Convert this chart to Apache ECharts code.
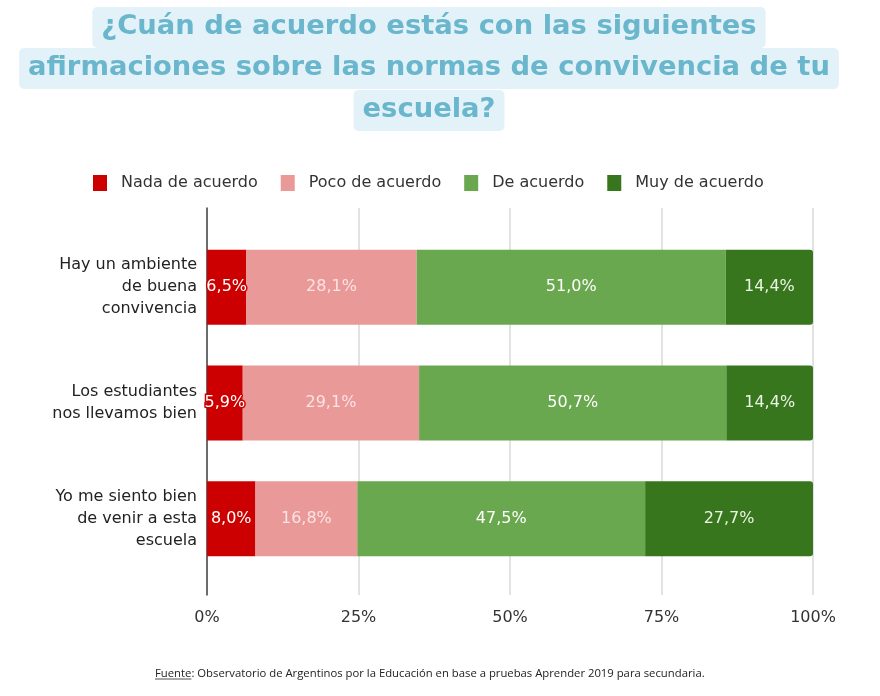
<!DOCTYPE html>
<html><head><meta charset="utf-8">
<script src="https://cdn.jsdelivr.net/npm/echarts@6/dist/echarts.min.js"></script>
<style>html,body{margin:0;padding:0;background:#fff}#c{width:880px;height:696px}</style>
</head><body><div id="c"></div>
<script>
const titleLines = ['¿Cuán de acuerdo estás con las siguientes', 'afirmaciones sobre las normas de convivencia de tu', 'escuela?'];
const categories = ['Hay un ambiente\nde buena\nconvivencia', 'Los estudiantes\nnos llevamos bien', 'Yo me siento bien\nde venir a esta\nescuela'];
const seriesNames = ['Nada de acuerdo', 'Poco de acuerdo', 'De acuerdo', 'Muy de acuerdo'];
const nada = [6.5, 5.9, 8.0];
const poco = [28.1, 29.1, 16.8];
const deAcuerdo = [51.0, 50.7, 47.5];
const muy = [14.4, 14.4, 27.7];
const xTicks = [0, 25, 50, 75, 100];
const footer = 'Observatorio de Argentinos por la Educación en base a pruebas Aprender 2019 para secundaria.';

const colors = ['#cc0000', '#ea9999', '#6aa84f', '#38761d'];
const labelColors = ['#ffffff', '#fbe3e3', '#ffffff', '#eaf4e4'];
const font = 'DejaVu Sans';
const fmt = p => p.value.toFixed(1).replace('.', ',') + '%';

const chart = echarts.init(document.getElementById('c'));
const tops = [7, 48, 90];
const option = {
  animation: false,
  title: titleLines.map((t, i) => ({
    text: t, left: 420, top: tops[i], textAlign: 'center',
    backgroundColor: '#e3f2f8', borderRadius: 5,
    padding: [4, 9, 5, 9],
    textStyle: {fontFamily: 'DejaVu Sans', fontWeight: 'bold', fontSize: 27.4, color: '#6ab6cc', lineHeight: 32}
  })),
  legend: {
    data: seriesNames, top: 170, left: 88, icon: 'rect',
    itemWidth: 14, itemHeight: 16, itemGap: 23,
    textStyle: {fontFamily: font, fontSize: 16, color: '#333', padding: [0,0,0,9]}
  },
  grid: [
    {left: 207, right: 67, top: 208, bottom: 101},
    {left: 207, right: 67, top: 229.5, bottom: 119.5}
  ],
  xAxis: [
    {gridIndex: 0, type: 'value', min: xTicks[0], max: xTicks[xTicks.length - 1], interval: xTicks[1] - xTicks[0],
      axisLine: {show: false}, axisTick: {show: false},
      splitLine: {lineStyle: {color: '#d9d9d9', width: 1.5}},
      axisLabel: {formatter: '{value}%', fontFamily: font, fontSize: 16, color: '#333', margin: 15}},
    {gridIndex: 1, type: 'value', min: 0, max: 100, show: false}
  ],
  yAxis: [
    {gridIndex: 0, type: 'value', min: 0, max: 1,
      axisLine: {show: true, lineStyle: {color: '#444', width: 1.5}}, axisTick: {show: false},
      axisLabel: {show: false}, splitLine: {show: false}},
    {gridIndex: 1, type: 'category', data: categories, inverse: true,
      axisLine: {show: false}, axisTick: {show: false}, splitLine: {show: false},
      axisLabel: {fontFamily: font, fontSize: 16, color: '#222', lineHeight: 22, margin: 10, align: 'right'}}
  ],
  series: [nada, poco, deAcuerdo, muy].map((d, i) => ({
    name: seriesNames[i], type: 'bar', stack: 'total', xAxisIndex: 1, yAxisIndex: 1,
    data: d, barWidth: 75,
    itemStyle: {color: colors[i], borderRadius: i === 3 ? [0, 3, 3, 0] : 0},
    label: {show: true, position: 'inside', formatter: fmt, fontFamily: font, fontSize: 16,
      color: labelColors[i],
      textBorderColor: i === 0 ? '#cc0000' : 'transparent', textBorderWidth: i === 0 ? 3 : 0}
  })),
  graphic: [
    {type: 'text', left: 155, top: 668,
      style: {text: 'Fuente: ' + footer, fontFamily: 'Open Sans', fontSize: 11.3, fill: '#222'}},
  ]
};
chart.setOption(option);
setTimeout(() => {
  const zr = chart.getZr();
  let el = null;
  zr.storage.getDisplayList(true).forEach(e => { if (e.style && typeof e.style.text === 'string' && e.style.text.indexOf('Fuente') === 0) el = e; });
  if (el) {
    const r = el.getBoundingRect().clone(); r.applyTransform(el.getComputedTransform());
    const ctx = document.createElement('canvas').getContext('2d');
    ctx.font = '11.3px "Open Sans"';
    const uw = ctx.measureText('Fuente').width;
    chart.setOption({graphic: [{}, {type: 'line', shape: {x1: r.x, y1: r.y + r.height, x2: r.x + uw, y2: r.y + r.height}, style: {stroke: '#222', lineWidth: 0.8}}]});
  }
}, 0);
</script></body></html>
